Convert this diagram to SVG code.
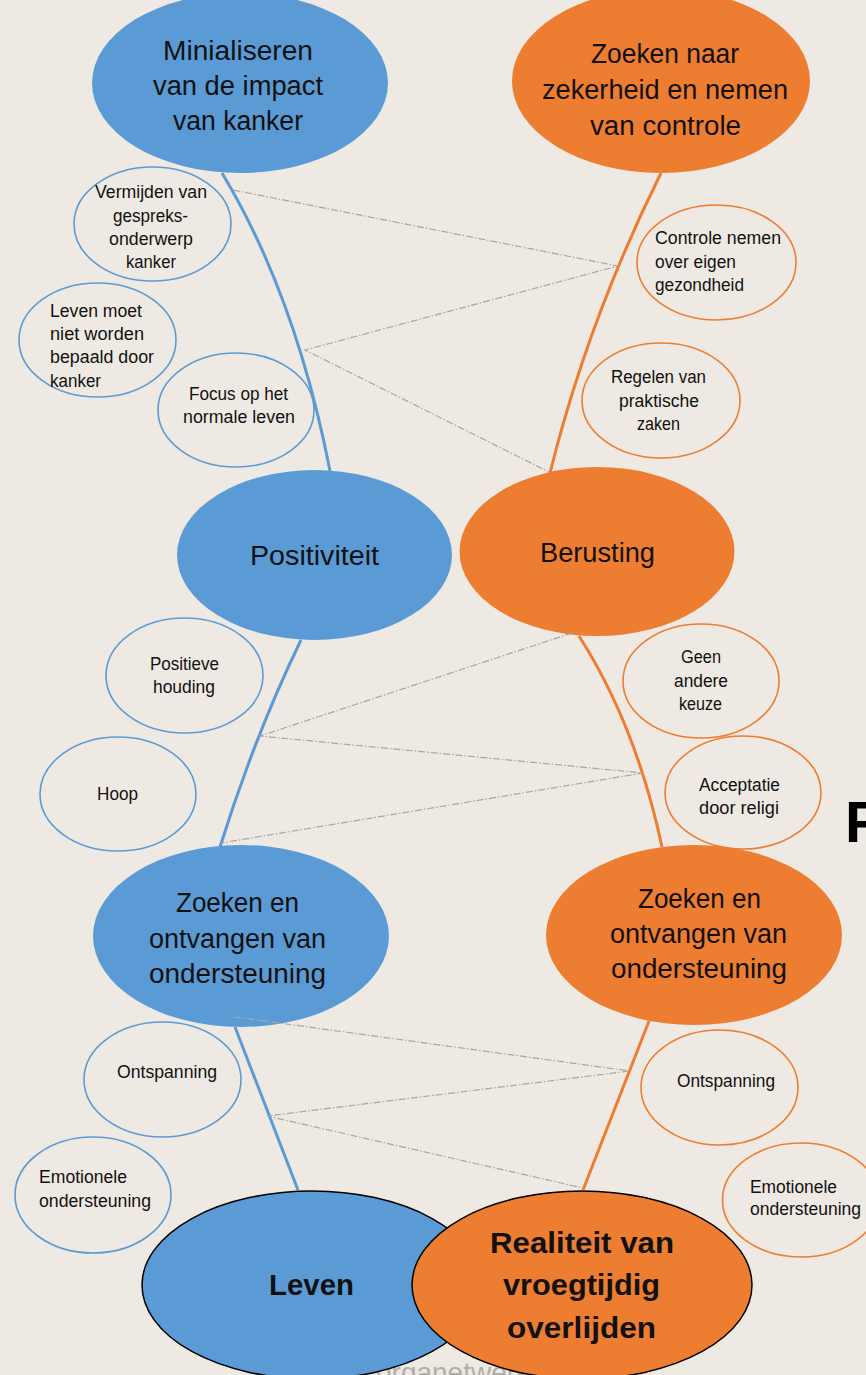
<svg xmlns="http://www.w3.org/2000/svg" width="866" height="1375" viewBox="0 0 866 1375">
<defs>
<style>
.bg{fill:#EEE9E2}
.blue{fill:#5B9BD5}
.orange{fill:#ED7D31}
.bc{fill:none;stroke:#5B9BD5;stroke-width:1.6}
.oc{fill:none;stroke:#ED7D31;stroke-width:1.6}
.bl{fill:none;stroke:#5B9BD5;stroke-width:3}
.ol{fill:none;stroke:#ED7D31;stroke-width:3}
.dl{fill:none;stroke:#A8A6A3;stroke-width:1.2;stroke-dasharray:7 2 1.5 2}
text{font-family:"Liberation Sans",Arial,sans-serif;fill:#111}
.t{font-size:27px}
.s{font-size:17.5px}
.b{font-size:30px;font-weight:bold}
.wm{font-size:28px;fill:#B3AEA8}
</style>
</defs>
<rect class="bg" x="0" y="0" width="866" height="1375"/>
<text class="wm" x="376" y="1382">organetwerk</text>

<g id="n-minialiseren">
<ellipse class="blue" cx="240" cy="83" rx="148" ry="90"/>
<text class="t" x="163" y="60" textLength="150" lengthAdjust="spacingAndGlyphs">Minialiseren</text>
<text class="t" x="153" y="95" textLength="170" lengthAdjust="spacingAndGlyphs">van de impact</text>
<text class="t" x="173" y="130" textLength="130" lengthAdjust="spacingAndGlyphs">van kanker</text>
</g>
<g id="n-zoeken-zekerheid">
<ellipse class="orange" cx="661" cy="81" rx="149" ry="92"/>
<text class="t" x="591" y="63" textLength="148" lengthAdjust="spacingAndGlyphs">Zoeken naar</text>
<text class="t" x="542" y="99" textLength="246" lengthAdjust="spacingAndGlyphs">zekerheid en nemen</text>
<text class="t" x="590" y="135" textLength="151" lengthAdjust="spacingAndGlyphs">van controle</text>
</g>
<g id="n-vermijden">
<ellipse class="bc" cx="152.5" cy="224" rx="78.5" ry="57"/>
<text class="s" x="95" y="198" textLength="112" lengthAdjust="spacingAndGlyphs">Vermijden  van</text>
<text class="s" x="113" y="222" textLength="75" lengthAdjust="spacingAndGlyphs">gespreks-</text>
<text class="s" x="109" y="245" textLength="84" lengthAdjust="spacingAndGlyphs">onderwerp</text>
<text class="s" x="126" y="268" textLength="50" lengthAdjust="spacingAndGlyphs">kanker</text>
</g>
<g id="n-leven-moet">
<ellipse class="bc" cx="97.5" cy="340" rx="78.5" ry="57"/>
<text class="s" x="50" y="317" textLength="92" lengthAdjust="spacingAndGlyphs">Leven moet</text>
<text class="s" x="50" y="340" textLength="94" lengthAdjust="spacingAndGlyphs">niet worden</text>
<text class="s" x="50" y="363" textLength="104" lengthAdjust="spacingAndGlyphs">bepaald door</text>
<text class="s" x="50" y="387" textLength="51" lengthAdjust="spacingAndGlyphs">kanker</text>
</g>
<g id="n-focus">
<ellipse class="bc" cx="236" cy="410" rx="78" ry="57"/>
<text class="s" x="189" y="400" textLength="99" lengthAdjust="spacingAndGlyphs">Focus op het</text>
<text class="s" x="183" y="423" textLength="112" lengthAdjust="spacingAndGlyphs">normale leven</text>
</g>
<g id="n-controle">
<ellipse class="oc" cx="716.5" cy="262.5" rx="79.5" ry="57.5"/>
<text class="s" x="655" y="244" textLength="126" lengthAdjust="spacingAndGlyphs">Controle nemen</text>
<text class="s" x="655" y="268" textLength="81" lengthAdjust="spacingAndGlyphs">over eigen</text>
<text class="s" x="655" y="291" textLength="89" lengthAdjust="spacingAndGlyphs">gezondheid</text>
</g>
<g id="n-regelen">
<ellipse class="oc" cx="661" cy="400.5" rx="79" ry="57.5"/>
<text class="s" x="611" y="383" textLength="95" lengthAdjust="spacingAndGlyphs">Regelen van</text>
<text class="s" x="619" y="407" textLength="80" lengthAdjust="spacingAndGlyphs">praktische</text>
<text class="s" x="637" y="430" textLength="43" lengthAdjust="spacingAndGlyphs">zaken</text>
</g>
<g id="n-positiviteit">
<ellipse class="blue" cx="314.5" cy="555" rx="137.5" ry="85"/>
<text class="t" x="250" y="565" textLength="129" lengthAdjust="spacingAndGlyphs">Positiviteit</text>
</g>
<g id="n-berusting">
<ellipse class="orange" cx="597" cy="551.5" rx="137.5" ry="84.5"/>
<text class="t" x="540" y="562" textLength="115" lengthAdjust="spacingAndGlyphs">Berusting</text>
</g>
<g id="n-positieve-houding">
<ellipse class="bc" cx="184.5" cy="675.5" rx="78.5" ry="57.5"/>
<text class="s" x="150" y="670" textLength="69" lengthAdjust="spacingAndGlyphs">Positieve</text>
<text class="s" x="153" y="693" textLength="62" lengthAdjust="spacingAndGlyphs">houding</text>
</g>
<g id="n-hoop">
<ellipse class="bc" cx="118" cy="794" rx="78" ry="57"/>
<text class="s" x="97" y="800" textLength="41" lengthAdjust="spacingAndGlyphs">Hoop</text>
</g>
<g id="n-geen-keuze">
<ellipse class="oc" cx="701" cy="681" rx="78" ry="57"/>
<text class="s" x="681" y="663" textLength="40" lengthAdjust="spacingAndGlyphs">Geen</text>
<text class="s" x="674" y="687" textLength="54" lengthAdjust="spacingAndGlyphs">andere</text>
<text class="s" x="679" y="710" textLength="43" lengthAdjust="spacingAndGlyphs">keuze</text>
</g>
<g id="n-acceptatie">
<ellipse class="oc" cx="743" cy="792.5" rx="78" ry="56.5"/>
<text class="s" x="699" y="791" textLength="81" lengthAdjust="spacingAndGlyphs">Acceptatie</text>
<text class="s" x="699" y="814" textLength="80" lengthAdjust="spacingAndGlyphs">door religi</text>
</g>
<g id="n-zoeken-blue">
<ellipse class="blue" cx="241" cy="936" rx="148" ry="91"/>
<text class="t" x="176" y="912" textLength="123" lengthAdjust="spacingAndGlyphs">Zoeken en</text>
<text class="t" x="149" y="948" textLength="177" lengthAdjust="spacingAndGlyphs">ontvangen van</text>
<text class="t" x="149" y="983" textLength="177" lengthAdjust="spacingAndGlyphs">ondersteuning</text>
</g>
<g id="n-zoeken-orange">
<ellipse class="orange" cx="694" cy="935" rx="148" ry="90"/>
<text class="t" x="638" y="908" textLength="123" lengthAdjust="spacingAndGlyphs">Zoeken en</text>
<text class="t" x="610" y="943" textLength="177" lengthAdjust="spacingAndGlyphs">ontvangen van</text>
<text class="t" x="611" y="978" textLength="176" lengthAdjust="spacingAndGlyphs">ondersteuning</text>
</g>
<g id="n-ontspanning-blue">
<ellipse class="bc" cx="162.5" cy="1079.5" rx="78.5" ry="57.5"/>
<text class="s" x="117" y="1078" textLength="100" lengthAdjust="spacingAndGlyphs">Ontspanning</text>
</g>
<g id="n-emotionele-blue">
<ellipse class="bc" cx="93" cy="1195" rx="78" ry="58"/>
<text class="s" x="39" y="1183" textLength="88" lengthAdjust="spacingAndGlyphs">Emotionele</text>
<text class="s" x="39" y="1207" textLength="112" lengthAdjust="spacingAndGlyphs">ondersteuning</text>
</g>
<g id="n-ontspanning-orange">
<ellipse class="oc" cx="719.5" cy="1087.5" rx="78.5" ry="57.5"/>
<text class="s" x="677" y="1087" textLength="98" lengthAdjust="spacingAndGlyphs">Ontspanning</text>
</g>
<g id="n-emotionele-orange">
<ellipse class="oc" cx="801" cy="1200" rx="78.5" ry="57"/>
<text class="s" x="750" y="1193" textLength="87" lengthAdjust="spacingAndGlyphs">Emotionele</text>
<text class="s" x="750" y="1215" textLength="111" lengthAdjust="spacingAndGlyphs">ondersteuning</text>
</g>
<g id="n-leven">
<ellipse class="blue" cx="312" cy="1285" rx="170" ry="94" stroke="#000" stroke-width="1.5"/>
<text class="b" x="269" y="1295" textLength="85" lengthAdjust="spacingAndGlyphs">Leven</text>
</g>
<g id="n-realiteit">
<ellipse class="orange" cx="582" cy="1285" rx="170" ry="94" stroke="#000" stroke-width="1.5"/>
<text class="b" x="490" y="1253" textLength="184" lengthAdjust="spacingAndGlyphs">Realiteit van</text>
<text class="b" x="503" y="1295" textLength="157" lengthAdjust="spacingAndGlyphs">vroegtijdig</text>
<text class="b" x="507" y="1338" textLength="149" lengthAdjust="spacingAndGlyphs">overlijden</text>
</g>

<g id="connectors">
<path class="bl" d="M222,173 Q296,296 330,471"/>
<path class="ol" d="M661,173 Q588,320 550,473"/>
<path class="bl" d="M301,640 Q255,735 220,847"/>
<path class="ol" d="M579,636 Q636,725 662,847"/>
<path class="bl" d="M235,1027 L298,1190"/>
<path class="ol" d="M649,1021 L583,1190"/>
<path class="dl" d="M233,190 L618,266 L305,350 L549,472"/>
<path class="dl" d="M572,633 L260,736 L643,773 L221,843"/>
<path class="dl" d="M235,1017 L630,1071 L267,1116 L583,1188"/>
</g>

<text x="845" y="842" style="font-size:58px;font-family:'Liberation Sans',sans-serif;font-weight:bold;fill:#000">F</text>
</svg>
